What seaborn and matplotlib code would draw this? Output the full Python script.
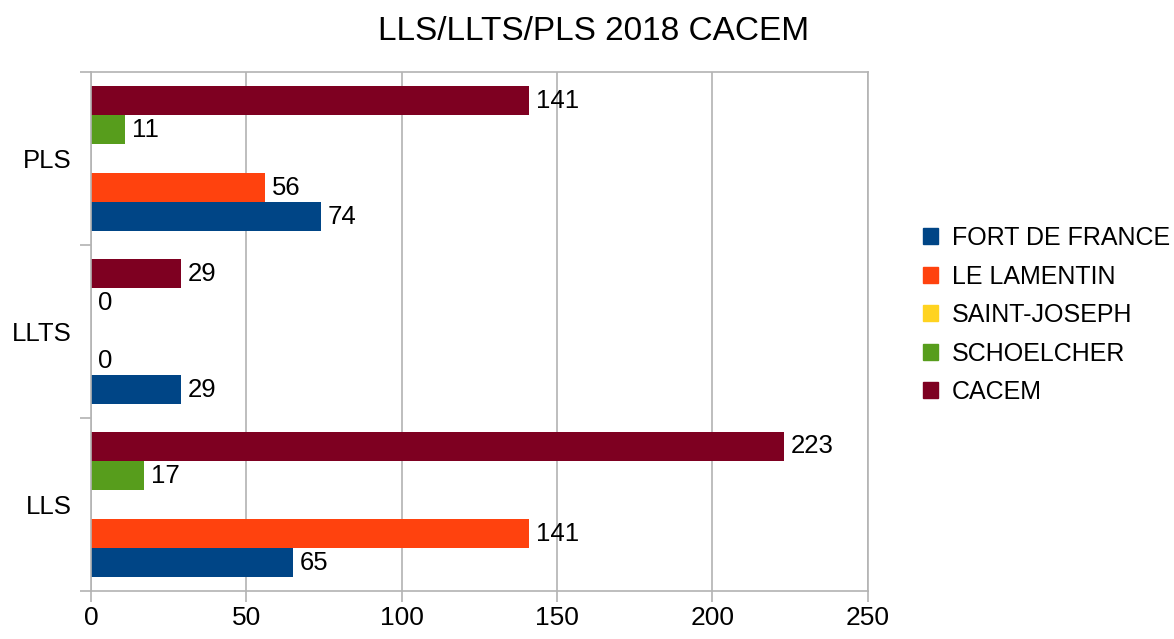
import numpy as np
import pandas as pd
import seaborn as sns
import matplotlib.pyplot as plt
from matplotlib.patches import Patch

categories = ['LLS', 'LLTS', 'PLS']
fort_de_france = [65, 29, 74]
le_lamentin = [141, 0, 56]
saint_joseph = [np.nan, np.nan, np.nan]
schoelcher = [17, 0, 11]
cacem = [223, 29, 141]

series = ['FORT DE FRANCE', 'LE LAMENTIN', 'SAINT-JOSEPH', 'SCHOELCHER', 'CACEM']
colors = ['#004586', '#ff420e', '#ffd320', '#579d1c', '#7e0021']

values = [fort_de_france, le_lamentin, saint_joseph, schoelcher, cacem]
rows = []
for name, vals in zip(series, values):
    for cat, v in zip(categories, vals):
        rows.append({'cat': cat, 'commune': name, 'nb': v})
df = pd.DataFrame(rows).dropna()

sns.set_style('white')
plt.rcParams['font.family'] = ['Liberation Sans', 'DejaVu Sans']
plt.rcParams['text.color'] = 'black'

fig = plt.figure(figsize=(11.74, 6.39), dpi=100)
ax = fig.add_axes([0.0775, 0.075, 0.6615, 0.812])

pal = dict(zip(series, colors))
sns.barplot(data=df, y='cat', x='nb', hue='commune', orient='h',
            order=categories[::-1], hue_order=series[::-1], palette=pal,
            width=0.84, saturation=1, errorbar=None, legend=False,
            linewidth=0, ax=ax)

for cont in ax.containers:
    ax.bar_label(cont, fmt='%g', padding=5, fontsize=18.5, color='black')

ax.set_xlim(0, 250)
ax.set_ylim(2.5, -0.5)
ax.set_xticks([0, 50, 100, 150, 200, 250])
ax.grid(axis='x', color='#b3b3b3', linewidth=1.2)
ax.set_axisbelow(True)
ax.set_yticks([-0.5, 0.5, 1.5, 2.5], minor=True)
ax.tick_params(axis='y', which='major', left=False, length=0, pad=14,
               labelsize=18.5, labelcolor='black')
ax.tick_params(axis='y', which='minor', left=True, length=8, color='#b3b3b3', width=1.2)
ax.tick_params(axis='x', bottom=True, length=8, color='#b3b3b3', width=1.2,
               labelsize=19, labelcolor='black', pad=3)
ax.set_xlabel('')
ax.set_ylabel('')
for s in ax.spines.values():
    s.set_color('#b3b3b3')
    s.set_linewidth(1.2)

fig.suptitle('LLS/LLTS/PLS 2018 CACEM', fontsize=24, x=0.506, y=0.975, color='black')

handles = [Patch(color=c) for c in colors]
fig.legend(handles, series, loc='center left', bbox_to_anchor=(0.786, 0.507),
           frameon=False, fontsize=18, handlelength=0.6, handleheight=0.6,
           handletextpad=0.55, labelspacing=0.58, borderpad=0, borderaxespad=0)

fig.savefig('out.png', dpi=100)
